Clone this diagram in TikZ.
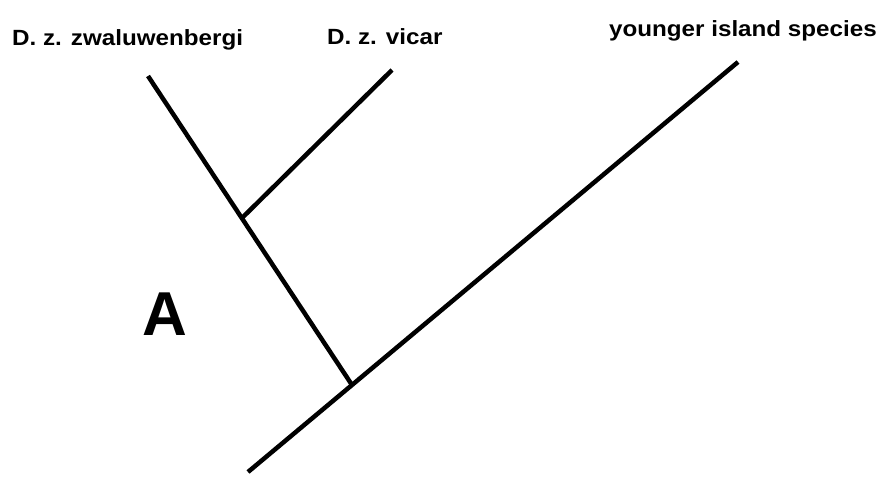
\documentclass[tikz,border=0pt]{standalone}
\usepackage{fontspec}
\setmainfont{Liberation Sans}
\begin{document}
\begin{tikzpicture}[x=1pt, y=-1pt]
    \useasboundingbox (0,0) rectangle (882,476);
    \tikzset{branch/.style={draw=black, line width=4.5pt},
             taxon/.style={font=\fontsize{22}{22}\selectfont\bfseries, xscale=1.1, inner sep=0pt}}
    % tips and junctions of the tree
    \coordinate (root) at (248,472);
    \coordinate (young) at (738,62);
    \coordinate (split) at (352,385);
    \coordinate (zwal) at (148,76);
    \coordinate (sister) at (242,218);
    \coordinate (vicar) at (392,70);
    \draw[branch] (root) -- (young);
    \draw[branch] (split) -- (zwal);
    \draw[branch] (sister) -- (vicar);
    \node (lzwal) at (12,46) [taxon, anchor=base west] {D. z. zwaluwenbergi};
    \node (lvicar) at (327,45) [taxon, anchor=base west] {D. z. vicar};
    \node (lyoung) at (877,37) [taxon, anchor=base east] {younger island species};
    \node (lA) at (165,335) [font=\fontsize{62}{62}\selectfont\bfseries, inner sep=0pt, anchor=base] {A};
\end{tikzpicture}
\end{document}
